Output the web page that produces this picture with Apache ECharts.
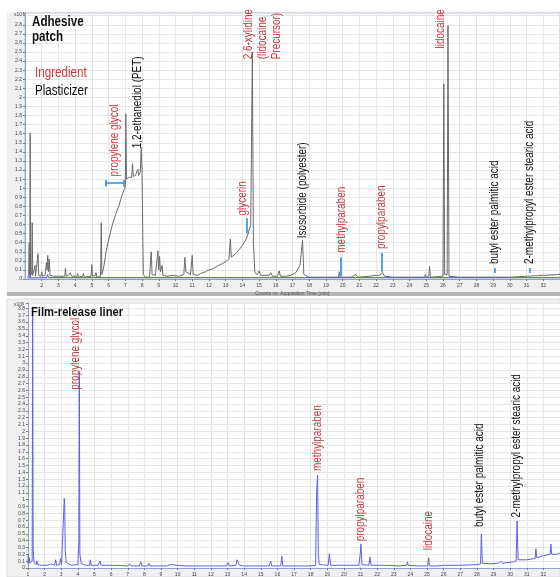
<!DOCTYPE html>
<html>
<head>
<meta charset="utf-8">
<script src="https://cdn.jsdelivr.net/npm/echarts@6/dist/echarts.min.js"></script>
<style>
  html, body { margin: 0; padding: 0; background: #fff; }
  #chart { width: 560px; height: 577px; }
</style>
</head>
<body>
<div id="chart"></div>
<script>
// Total ion chromatograms: adhesive patch (counts x10^7) and film-release liner (counts x10^6)

// Adhesive patch trace: [acquisition time (min), counts x10^7]
const adhesiveTrace = [
  [1.16,0.02],[1.22,0.05],[1.25,0.40],[1.27,0.05],[1.29,0.10],[1.31,1.61],[1.33,0.08],
  [1.40,0.05],[1.43,0.62],[1.46,0.04],[1.55,0.03],[1.60,0.15],[1.63,0.03],
  [1.72,0.05],[1.78,0.28],[1.82,0.04],[1.95,0.03],[2.00,0.08],[2.05,0.03],
  [2.20,0.04],[2.28,0.18],[2.32,0.10],[2.36,0.26],[2.40,0.08],[2.45,0.22],[2.50,0.04],
  [2.70,0.03],[2.80,0.05],[3.00,0.03],[3.38,0.03],[3.42,0.12],[3.46,0.03],
  [3.60,0.04],[3.70,0.07],[3.80,0.03],[4.10,0.03],[4.15,0.06],[4.20,0.02],
  [4.45,0.03],[4.50,0.06],[4.55,0.02],[4.95,0.03],[5.00,0.16],[5.04,0.03],
  [5.20,0.04],[5.25,0.07],[5.30,0.02],[5.52,0.03],[5.56,0.62],[5.60,0.05],
  [5.70,0.12],[5.85,0.30],[6.00,0.43],[6.20,0.58],[6.40,0.70],[6.60,0.80],[6.80,0.92],[6.97,1.00],
  [7.00,1.04],[7.03,1.82],[7.07,1.10],[7.20,1.12],[7.30,1.14],[7.38,1.12],[7.43,1.27],[7.48,1.13],
  [7.60,1.14],[7.70,1.13],[7.75,1.21],[7.80,1.14],[7.90,1.18],[7.95,1.45],[8.00,1.20],[8.05,0.40],[8.08,0.05],
  [8.20,0.02],[8.45,0.02],[8.55,0.30],[8.60,0.05],[8.80,0.04],[8.95,0.31],[9.00,0.10],[9.05,0.25],
  [9.10,0.08],[9.20,0.15],[9.25,0.04],[9.50,0.03],[9.80,0.04],[10.20,0.03],
  [10.50,0.05],[10.56,0.24],[10.62,0.08],[10.90,0.05],[11.00,0.26],[11.06,0.05],
  [11.30,0.04],[11.50,0.06],[11.80,0.08],[12.00,0.10],[12.20,0.11],[12.50,0.14],[12.80,0.17],
  [13.00,0.19],[13.20,0.22],[13.28,0.44],[13.34,0.24],[13.60,0.28],[13.80,0.32],[14.00,0.37],
  [14.20,0.43],[14.30,0.47],[14.50,0.60],[14.60,2.50],[14.66,0.40],[14.75,0.07],
  [14.90,0.05],[15.00,0.09],[15.10,0.04],[15.60,0.04],[15.70,0.07],[15.80,0.03],
  [16.10,0.03],[16.20,0.09],[16.28,0.03],[16.60,0.03],[16.90,0.04],[17.20,0.07],
  [17.45,0.15],[17.60,0.43],[17.68,0.05],[18.00,0.02],[18.50,0.02],[19.00,0.02],
  [19.75,0.02],[19.80,0.08],[19.85,0.02],[20.50,0.02],[20.80,0.05],[20.90,0.02],
  [21.60,0.03],[21.90,0.04],[22.20,0.04],[22.40,0.07],[22.50,0.03],[23.00,0.02],
  [24.00,0.02],[24.90,0.02],[24.95,0.05],[25.00,0.02],[25.15,0.03],[25.20,0.14],[25.25,0.02],
  [26.00,0.03],[26.05,2.15],[26.10,0.05],[26.25,0.05],[26.30,2.79],[26.36,0.03],
  [27.00,0.02],[28.00,0.02],[29.00,0.02],[30.00,0.02],[31.00,0.03],[32.00,0.04],[33.00,0.05]
];

// Overlaid reference trace on the adhesive panel, counts x10^7
const adhesiveOverlay = [
  [1.16,0.012],[1.28,0.012],[1.31,0.26],[1.34,0.012],[2.30,0.015],[2.36,0.05],
  [2.40,0.015],[33.00,0.015]
];

// Film-release liner trace: [acquisition time (min), counts x10^6]
const linerTrace = [
  [1.00,0.06],[1.02,0.20],[1.05,0.08],[1.08,0.15],[1.12,0.07],[1.25,0.10],[1.28,3.70],
  [1.31,0.30],[1.36,0.08],[1.40,0.07],[1.50,0.05],[1.53,0.10],[1.58,0.05],[1.80,0.04],
  [2.20,0.04],[2.36,0.06],[2.42,0.04],[2.60,0.04],[2.66,0.12],[2.72,0.04],[2.90,0.05],
  [2.96,0.14],[3.02,0.05],[3.12,0.06],[3.18,1.02],[3.21,0.93],[3.24,0.25],[3.30,0.08],
  [3.60,0.04],[4.00,0.05],[4.06,0.40],[4.09,2.88],[4.12,0.20],[4.20,0.07],[4.27,0.09],
  [4.35,0.05],[4.50,0.04],[4.57,0.06],[4.62,0.04],[4.70,0.04],[4.75,0.12],[4.80,0.04],
  [5.20,0.04],[5.34,0.10],[5.40,0.04],[5.90,0.04],[6.00,0.06],[6.10,0.04],[7.00,0.03],
  [7.13,0.06],[7.20,0.03],[7.70,0.03],[7.79,0.09],[7.85,0.03],[8.20,0.03],[8.27,0.07],
  [8.33,0.03],[9.20,0.03],[9.28,0.05],[9.35,0.03],[9.55,0.05],[9.62,0.03],[10.50,0.03],
  [11.50,0.03],[12.10,0.03],[12.15,0.04],[12.20,0.03],[12.95,0.03],[13.04,0.08],[13.10,0.03],
  [13.50,0.04],[13.58,0.12],[13.62,0.10],[13.66,0.14],[13.72,0.04],[13.95,0.03],[14.00,0.04],
  [14.05,0.03],[14.70,0.03],[14.75,0.04],[15.50,0.03],[15.60,0.10],[15.66,0.03],[16.20,0.03],
  [16.27,0.17],[16.33,0.03],[17.00,0.03],[17.90,0.03],[17.95,0.04],[18.30,0.04],[18.36,1.10],
  [18.42,1.36],[18.46,0.20],[18.52,0.05],[19.05,0.04],[19.13,0.21],[19.20,0.04],[20.00,0.04],
  [20.30,0.04],[20.35,0.05],[20.90,0.04],[20.98,0.20],[21.03,0.35],[21.09,0.05],[21.50,0.04],
  [21.57,0.16],[21.63,0.04],[22.50,0.04],[23.30,0.03],[23.78,0.04],[23.82,0.09],[23.87,0.04],
  [24.50,0.03],[25.04,0.03],[25.10,0.15],[25.15,0.03],[25.60,0.03],[26.00,0.04],[27.00,0.04],
  [28.00,0.05],[28.22,0.06],[28.27,0.50],[28.33,0.07],[28.80,0.06],[29.30,0.07],[29.45,0.10],
  [29.55,0.07],[30.20,0.09],[30.36,0.10],[30.42,0.69],[30.48,0.12],[30.60,0.10],[31.00,0.12],
  [31.50,0.14],[31.55,0.28],[31.60,0.15],[32.00,0.18],[32.10,0.17],[32.40,0.20],[32.45,0.35],
  [32.50,0.20],[32.80,0.20],[33.00,0.22]
];

// Compound annotations: [name, time (min), counts where the label starts, kind]
const adhesiveLabels = [
  ['propylene glycol', 6.37, 1.13, 'ingredient'],
  ['1,2-ethanediol (PET)', 7.75, 1.44, 'plasticizer'],
  ['glycerin', 14.04, 0.70, 'ingredient'],
  ['2,6-xylidine\n(lidocaine\nPrecursor)', 15.2, 2.42, 'ingredient'],
  ['Isosorbide (polyester)', 17.63, 0.45, 'plasticizer'],
  ['methylparaben', 19.96, 0.29, 'ingredient'],
  ['propylparaben', 22.36, 0.33, 'ingredient'],
  ['lidocaine', 25.88, 2.54, 'ingredient'],
  ['butyl ester palmitic acid', 29.07, 0.165, 'plasticizer'],
  ['2-methylpropyl ester stearic acid', 31.2, 0.165, 'plasticizer']
];
const linerLabels = [
  ['propylene glycol', 3.85, 2.61, 'ingredient'],
  ['methylparaben', 18.42, 1.42, 'ingredient'],
  ['propylparaben', 21.0, 0.39, 'ingredient'],
  ['lidocaine', 25.1, 0.26, 'ingredient'],
  ['butyl ester palmitic acid', 28.15, 0.60, 'plasticizer'],
  ['2-methylpropyl ester stearic acid', 30.42, 0.74, 'plasticizer']
];

// Retention markers on the adhesive panel: [[t1, c1], [t2, c2]]
const adhesiveMarkers = [
  [[5.83, 1.055], [6.91, 1.055]],
  [[5.83, 1.02], [5.83, 1.09]],
  [[6.91, 1.02], [6.91, 1.09]],
  [[14.28, 0.505], [14.28, 0.67]],
  [[19.90, 0.03], [19.90, 0.24]],
  [[22.36, 0.08], [22.36, 0.29]],
  [[29.07, 0.066], [29.07, 0.12]],
  [[31.20, 0.066], [31.20, 0.12]]
];

const timeRange = [1, 33];
const adhesiveMax = 2.93;
const linerMax = 3.88;

const FONT = "'Liberation Sans',Arial,sans-serif";
const CONDENSE = 0.83;   // horizontal squeeze giving a narrow typeface look
const RED = '#c8383a';
const INK = '#111';
const GRID_LINE = '#e6e6e6';
const AXIS_BLUE = '#8fa3d2';

function yLabel(max) {
  return function (v) {
    if (v > max - 0.05) return '';
    return String(Math.round(v * 10) / 10);
  };
}

function xAxis(gridIndex, withName) {
  return {
    type: 'value', gridIndex: gridIndex, min: timeRange[0], max: timeRange[1], interval: 1,
    axisLine: { show: true, onZero: false, lineStyle: { color: AXIS_BLUE, width: 1 } },
    axisTick: { show: true, length: 2, lineStyle: { color: '#777' } },
    axisLabel: { fontSize: 5, color: '#444', margin: 4, showMinLabel: gridIndex === 1, showMaxLabel: false },
    splitLine: { show: true, lineStyle: { color: GRID_LINE, width: 1 } },
    name: withName ? 'Counts vs. Acquisition Time (min)' : '',
    nameLocation: 'middle', nameGap: 12,
    nameTextStyle: { fontSize: 5, color: '#555' }
  };
}

function yAxis(gridIndex, max) {
  return {
    type: 'value', gridIndex: gridIndex, min: 0, max: max, interval: 0.1,
    axisLine: { show: true, lineStyle: { color: AXIS_BLUE, width: 1 } },
    axisTick: { show: true, length: 2, lineStyle: { color: '#777' } },
    axisLabel: { fontSize: 5, color: '#444', margin: 3, formatter: yLabel(max) },
    splitLine: { show: true, lineStyle: { color: GRID_LINE, width: 1 } }
  };
}

function flatText(str, x, y, font, fill, lineHeight) {
  return {
    type: 'text', z: 20, x: x, y: y, scaleX: CONDENSE, silent: true,
    style: { text: str, font: font, fill: fill, lineHeight: lineHeight || undefined, align: 'left', verticalAlign: 'top' }
  };
}

const chart = echarts.init(document.getElementById('chart'), null, { renderer: 'canvas' });

chart.setOption({
  animation: false,
  backgroundColor: '#fff',
  grid: [
    { left: 25, top: 13, width: 535, height: 266, show: true, backgroundColor: '#fff', borderColor: '#a9bde3', borderWidth: 1 },
    { left: 28, top: 303, width: 536, height: 266, show: true, backgroundColor: '#fff', borderColor: 'rgba(0,0,0,0)', borderWidth: 0 }
  ],
  xAxis: [xAxis(0, true), xAxis(1, false)],
  yAxis: [yAxis(0, adhesiveMax), yAxis(1, linerMax)],
  series: [
    {
      type: 'line', xAxisIndex: 0, yAxisIndex: 0, data: adhesiveOverlay, showSymbol: false,
      lineStyle: { color: '#5a5ae0', width: 1 }, z: 2
    },
    {
      type: 'line', xAxisIndex: 0, yAxisIndex: 0, data: adhesiveTrace, showSymbol: false,
      lineStyle: { color: '#6a6a6a', width: 1 }, z: 3
    },
    {
      type: 'lines', coordinateSystem: 'cartesian2d', xAxisIndex: 0, yAxisIndex: 0, z: 4,
      lineStyle: { color: '#2b8fd8', width: 1.6, opacity: 1 },
      data: adhesiveMarkers.map(function (m) { return { coords: m }; })
    },
    {
      type: 'line', xAxisIndex: 1, yAxisIndex: 1, data: linerTrace, showSymbol: false,
      lineStyle: { color: '#5f5fe6', width: 1 }, z: 3
    }
  ]
});

// Rotated compound names, anchored at their (time, counts) position on each panel
function rotatedLabels(list, gridIndex) {
  return list.map(function (d) {
    const p = chart.convertToPixel({ gridIndex: gridIndex }, [d[1], d[2]]);
    return {
      type: 'text', z: 20, x: p[0], y: p[1], rotation: Math.PI / 2, scaleX: CONDENSE, silent: true,
      style: {
        text: d[0], font: '12px ' + FONT, lineHeight: 14,
        fill: d[3] === 'ingredient' ? RED : INK, align: 'left', verticalAlign: 'middle'
      }
    };
  });
}

chart.setOption({
  graphic: [
    { type: 'rect', z: -10, shape: { x: 7, y: 12, width: 553, height: 281 }, style: { fill: '#f0f0f0' } },
    { type: 'rect', z: -10, shape: { x: 7, y: 292, width: 553, height: 4 }, style: { fill: '#b4b4b4' } },
    { type: 'rect', z: -10, shape: { x: 7, y: 299, width: 553, height: 278 }, style: { fill: '#f0f0f0', stroke: '#dcdcdc', lineWidth: 1 } },
    { type: 'text', z: 20, x: 14, y: 12, style: { text: 'x10{s|7}', fontSize: 5, fill: '#444', rich: { s: { fontSize: 4, verticalAlign: 'top', fill: '#444' } } } },
    { type: 'text', z: 20, x: 14, y: 302, style: { text: 'x10{s|6}', fontSize: 5, fill: '#444', rich: { s: { fontSize: 4, verticalAlign: 'top', fill: '#444' } } } },
    flatText('Adhesive\npatch', 32, 15, 'bold 14px ' + FONT, INK, 15),
    flatText('Ingredient', 35, 66, '14px ' + FONT, RED),
    flatText('Plasticizer', 35, 84, '14px ' + FONT, INK),
    flatText('Film-release liner', 31, 305, 'bold 13.5px ' + FONT, INK)
  ].concat(rotatedLabels(adhesiveLabels, 0), rotatedLabels(linerLabels, 1))
});
</script>
</body>
</html>
